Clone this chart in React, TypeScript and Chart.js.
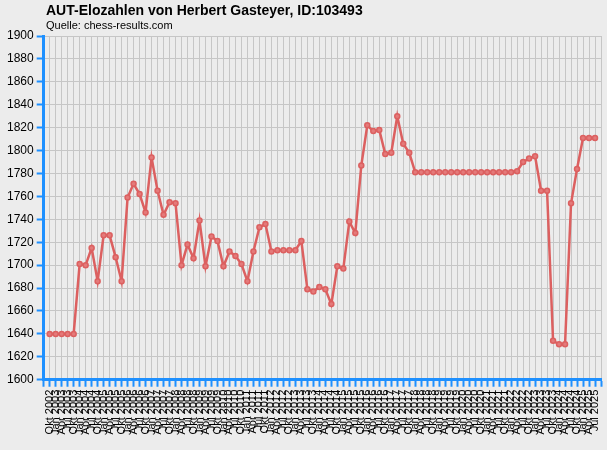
import { Chart, registerables } from "chart.js";
import { useEffect, useRef } from "react";

Chart.register(...registerables);

// quarterly list dates (German month abbreviations)
const labels = [
  "Okt 2002",
  "Jan 2003", "Apr 2003", "Jul 2003", "Okt 2003",
  "Jan 2004", "Apr 2004", "Jul 2004", "Okt 2004",
  "Jan 2005", "Apr 2005", "Jul 2005", "Okt 2005",
  "Jan 2006", "Apr 2006", "Jul 2006", "Okt 2006",
  "Jan 2007", "Apr 2007", "Jul 2007", "Okt 2007",
  "Jan 2008", "Apr 2008", "Jul 2008", "Okt 2008",
  "Jan 2009", "Apr 2009", "Jul 2009", "Okt 2009",
  "Jan 2010", "Apr 2010", "Jul 2010", "Okt 2010",
  "Jan 2011", "Apr 2011", "Jul 2011", "Okt 2011",
  "Jan 2012", "Apr 2012", "Jul 2012", "Okt 2012",
  "Jan 2013", "Apr 2013", "Jul 2013", "Okt 2013",
  "Jan 2014", "Apr 2014", "Jul 2014", "Okt 2014",
  "Jan 2015", "Apr 2015", "Jul 2015", "Okt 2015",
  "Jan 2016", "Apr 2016", "Jul 2016", "Okt 2016",
  "Jan 2017", "Apr 2017", "Jul 2017", "Okt 2017",
  "Jan 2018", "Apr 2018", "Jul 2018", "Okt 2018",
  "Jan 2019", "Apr 2019", "Jul 2019", "Okt 2019",
  "Jan 2020", "Apr 2020", "Jul 2020", "Okt 2020",
  "Jan 2021", "Apr 2021", "Jul 2021", "Okt 2021",
  "Jan 2022", "Apr 2022", "Jul 2022", "Okt 2022",
  "Jan 2023", "Apr 2023", "Jul 2023", "Okt 2023",
  "Jan 2024", "Apr 2024", "Jul 2024", "Okt 2024",
  "Jan 2025", "Apr 2025", "Jul 2025",
];

const elo = [
  1640, 1640, 1640, 1640, 1640, 1701, 1700, 1715, 1686, 1726,
  1726, 1707, 1686, 1759, 1771, 1762, 1746, 1794, 1765, 1744,
  1755, 1754, 1700, 1718, 1706, 1739, 1699, 1725, 1721, 1699,
  1712, 1708, 1701, 1686, 1712, 1733, 1736, 1712, 1713, 1713,
  1713, 1713, 1721, 1679, 1677, 1681, 1679, 1666, 1699, 1697,
  1738, 1728, 1787, 1822, 1817, 1818, 1797, 1798, 1830, 1806,
  1798, 1781, 1781, 1781, 1781, 1781, 1781, 1781, 1781, 1781,
  1781, 1781, 1781, 1781, 1781, 1781, 1781, 1781, 1782, 1790,
  1793, 1795, 1765, 1765, 1634, 1631, 1631, 1754, 1784, 1811,
  1811, 1811,
];

const yMin = 1600;
const yMax = 1900;
const yStep = 20;

const title = "AUT-Elozahlen von Herbert Gasteyer, ID:103493";
const source = "Quelle: chess-results.com";

const FONT = "'Liberation Sans', Arial, sans-serif";
const BLUE = "#1e90ff";
const GRID = "#c6c6c6";
const LINE = "#dc6060";

const App = () => {
  const canvasRef = useRef<HTMLCanvasElement>(null);
  const chartRef = useRef<Chart | null>(null);

  useEffect(() => {
    if (!canvasRef.current) return;
    if (chartRef.current) chartRef.current.destroy();

    Chart.defaults.font.family = FONT;
    Chart.defaults.color = "#000";

    chartRef.current = new Chart(canvasRef.current, {
      type: "line",
      data: {
        datasets: [
          {
            label: "Elo",
            data: elo.map((v, i) => ({ x: i, y: v })),
            borderColor: LINE,
            borderWidth: 2.5,
            backgroundColor: "#e47a7a",
            pointBackgroundColor: "#e47a7a",
            pointBorderColor: LINE,
            pointBorderWidth: 1.5,
            pointRadius: 2.5,
            tension: 0,
          },
        ],
      },
      options: {
        animation: false,
        responsive: true,
        maintainAspectRatio: false,
        layout: { padding: { top: 36, left: 4, right: 6, bottom: 12 } },
        plugins: {
          legend: { display: false },
          tooltip: { enabled: false },
        },
        scales: {
          x: {
            type: "linear",
            min: -1,
            max: labels.length,
            afterFit: (scale) => {
              scale.paddingLeft = 0;
              scale.paddingRight = 0;
            },
            grid: {
              color: GRID,
              tickColor: BLUE,
              tickLength: 7,
              tickWidth: 2,
            },
            border: { color: BLUE, width: 3 },
            ticks: {
              stepSize: 1,
              autoSkip: false,
              minRotation: 90,
              maxRotation: 90,
              padding: 3,
              font: { size: 11 },
              callback: (v) => labels[v as number] ?? "",
            },
          },
          y: {
            min: yMin,
            max: yMax,
            grid: {
              color: GRID,
              tickColor: BLUE,
              tickLength: 7,
              tickWidth: 2,
            },
            border: { color: BLUE, width: 3 },
            ticks: {
              stepSize: yStep,
              padding: 3,
              font: { size: 12 },
              callback: (v) => String(v),
            },
          },
        },
      },
    });

    return () => {
      if (chartRef.current) {
        chartRef.current.destroy();
        chartRef.current = null;
      }
    };
  }, []);

  return (
    <div
      style={{
        position: "absolute",
        left: 0,
        top: 0,
        width: "607px",
        height: "450px",
        background: "#ececec",
        fontFamily: FONT,
      }}
    >
      <canvas ref={canvasRef}></canvas>
      <div
        style={{
          position: "absolute",
          left: "46px",
          top: "2px",
          fontSize: "14px",
          fontWeight: "bold",
          lineHeight: "16px",
          whiteSpace: "nowrap",
        }}
      >
        {title}
      </div>
      <div
        style={{
          position: "absolute",
          left: "46px",
          top: "19px",
          fontSize: "11px",
          lineHeight: "13px",
          whiteSpace: "nowrap",
        }}
      >
        {source}
      </div>
    </div>
  );
};

export default App;
